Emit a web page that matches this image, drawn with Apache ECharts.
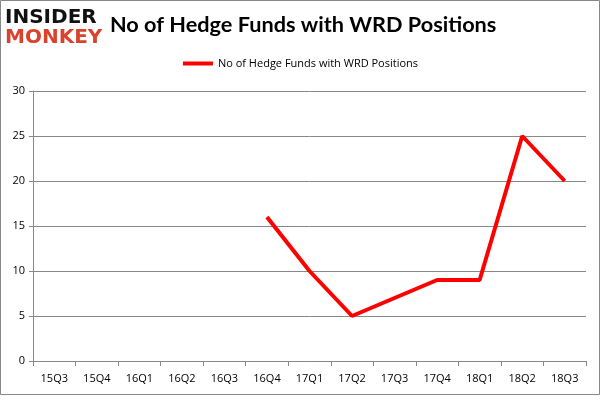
<!DOCTYPE html>
<html><head><meta charset="utf-8">
<script src="https://cdn.jsdelivr.net/npm/echarts@6/dist/echarts.min.js"></script>
<style>html,body{margin:0;padding:0;background:#fff}#c{width:601px;height:396px}</style>
</head><body><div id="c"></div>
<script>
const categories = ['15Q3','15Q4','16Q1','16Q2','16Q3','16Q4','17Q1','17Q2','17Q3','17Q4','18Q1','18Q2','18Q3'];
const hedgeFunds = [null,null,null,null,null,16,10,5,7,9,9,25,20];
const seriesName = 'No of Hedge Funds with WRD Positions';
const titleText = 'No of Hedge Funds with WRD Positions';

const chart = echarts.init(document.getElementById('c'));
chart.setOption({
  animation:false,
  backgroundColor:'#fff',
  title:{text:titleText,left:105,top:9,textStyle:{fontFamily:'Lato',fontSize:21.7,fontWeight:'bold',color:'#000'}},
  legend:{data:[seriesName],top:53,left:'center',itemWidth:30,itemHeight:4,icon:'rect',
    textStyle:{fontFamily:'Open Sans',fontSize:11,color:'#000'}},
  grid:{left:33,right:15,top:91,bottom:35,containLabel:false},
  xAxis:{type:'category',data:categories,boundaryGap:true,
    axisLine:{lineStyle:{color:'#888',width:1}},
    axisTick:{show:true,alignWithLabel:false,length:5,lineStyle:{color:'#888'}},
    axisLabel:{fontFamily:'Open Sans',fontSize:11,color:'#000',margin:12}},
  yAxis:{type:'value',min:0,max:30,interval:5,
    axisLine:{show:true,lineStyle:{color:'#888'}},
    axisTick:{show:true,length:4,lineStyle:{color:'#888'}},
    splitLine:{lineStyle:{color:'#888',width:1}},
    axisLabel:{fontFamily:'Open Sans',fontSize:11,color:'#000',margin:8}},
  series:[{name:seriesName,type:'line',data:hedgeFunds,symbol:'none',connectNulls:false,
    lineStyle:{color:'#ff0000',width:4},itemStyle:{color:'#ff0000'}}],
  graphic:[
    {type:'rect',shape:{x:0.5,y:0.5,width:599,height:394},style:{fill:'none',stroke:'#888',lineWidth:1}},
    {type:'text',left:5,top:8,style:{text:'INSIDER',font:'900 20px "DejaVu Sans"',fill:'#111'}},
    {type:'text',left:5,top:28,style:{text:'MONKEY',font:'900 20px "DejaVu Sans"',fill:'#d9432e'}}
  ]
});
</script></body></html>
